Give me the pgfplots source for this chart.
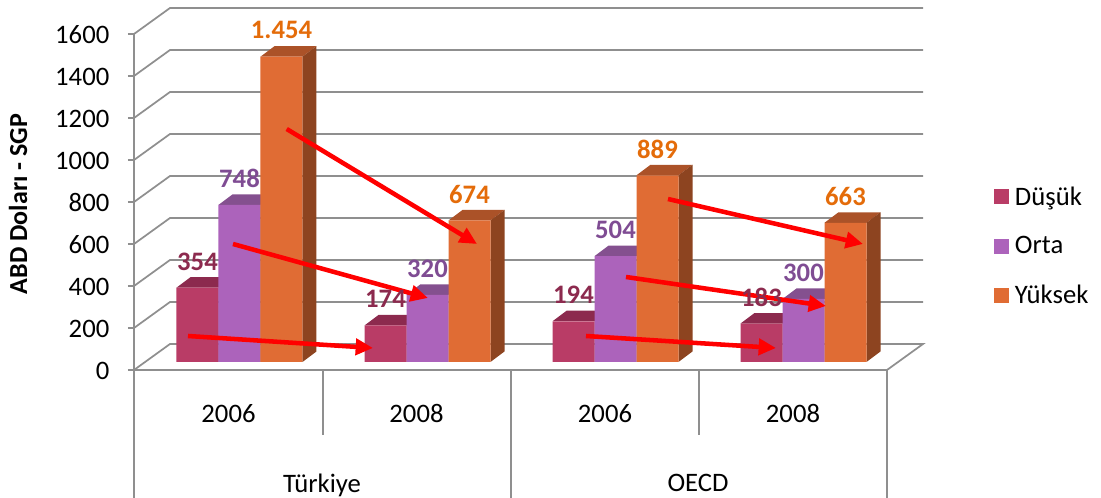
\documentclass[border=0pt]{standalone}
\usepackage{fontspec}
\setmainfont{Carlito}
\usepackage{pgfplots}
\usepackage{pgfplotstable}
\pgfplotsset{compat=1.18}
\usetikzlibrary{arrows.meta}

\definecolor{dusuk}{HTML}{B93C66}
\definecolor{dusuktop}{HTML}{8C2A4E}
\definecolor{orta}{HTML}{AC63BB}
\definecolor{ortatop}{HTML}{84508F}
\definecolor{yuksek}{HTML}{E06C34}
\definecolor{yuksektop}{HTML}{AB5228}
\definecolor{yukseksid}{HTML}{8D4420}
\definecolor{labd}{HTML}{8C2A4E}
\definecolor{labo}{HTML}{7F4C93}
\definecolor{laby}{HTML}{E46C0A}
\definecolor{wallgrey}{HTML}{8F8F8F}

% x is in picture pixels, y in chart values (bars stand on y=0)
\pgfplotstableread{
x     v    lab
197.5 354  354
385.5 174  174
573.5 194  194
761.5 183  183
}\tdusuk
\pgfplotstableread{
x     v    lab
239.5 748  748
427.5 320  320
615.5 504  504
803.5 300  300
}\torta
\pgfplotstableread{
x     v    lab
281.5 1454 1.454
469.5 674  674
657.5 889  889
845.5 663  663
}\tyuksek

\newcommand{\depth}[4]{%
  \pgfmathsetmacro\xa{#1-21}\pgfmathsetmacro\xb{#1+21}%
  \pgfmathsetmacro\xc{#1+35}\pgfmathsetmacro\xd{#1-7}%
  \pgfmathsetmacro\vb{#2+50}%
  \addplot[fill=#3,draw=none,forget plot] coordinates {(\xa,#2)(\xb,#2)(\xc,\vb)(\xd,\vb)};
  \addplot[fill=#4,draw=none,forget plot] coordinates {(\xb,0)(\xc,50)(\xc,\vb)(\xb,#2)};
}
\newcommand{\fs}{\fontsize{20}{22}\selectfont}
\pgfplotsset{redarrow/.style={forget plot,draw=red,fill=red,line width=3.4pt,-{Triangle[length=13pt,width=12pt]}}}

\begin{document}
\begin{tikzpicture}
\useasboundingbox (-100.5pt,-96pt) rectangle (725.25pt,277.5pt);
\begin{axis}[
  x=0.75pt, y=0.1575pt,
  xmin=134, xmax=887,
  ymin=-38.1, ymax=1561.9,
  clip=false, no markers,
  axis x line*=bottom, axis y line*=left,
  axis line style={wallgrey,line width=2.2pt},
  ytick={-38.1,161.9,361.9,561.9,761.9,961.9,1161.9,1361.9,1561.9},
  yticklabels={0,200,400,600,800,1000,1200,1400,1600},
  ytick style={wallgrey,line width=1.2pt},
  tick align=outside,
  major tick length=4.5pt,
  yticklabel style={font=\fs,xshift=-10.5pt,yshift=-0.7pt},
  xtick={228.5,416.5,605,793},
  xticklabels={2006,2008,2006,2008},
  xtick style={draw=none},
  xticklabel style={font=\fs,yshift=-17.7pt},
  extra x ticks={322,698},
  extra x tick labels={Türkiye,OECD},
  extra x tick style={xtick style={draw=none},xticklabel style={font=\fs,yshift=-52.5pt}},
  ylabel={\bfseries ABD Doları - SGP},
  every axis y label/.style={at={(axis cs:18,752)},rotate=90,anchor=center,font=\fontsize{19.5}{21}\selectfont},
  legend style={at={(axis cs:994,552)},anchor=west,draw=none,fill=none,font=\fs,row sep=18pt,inner sep=0pt,
    /tikz/every even column/.append style={column sep=0pt}},
  legend cell align=left,
  legend image code/.code={\fill[#1] (0pt,-5.6pt) rectangle (11.25pt,5.6pt);\path (13.5pt,0pt);},
]
% walls and floor
\addplot[wallgrey,line width=1.3pt,forget plot,unbounded coords=jump] coordinates {
 (134,-38.1)(170,85.7)(923,85.7)(887,-38.1)
 (134,nan)
 (134,161.9)(170,285.7)(923,285.7)
 (134,nan)
 (134,361.9)(170,485.7)(923,485.7)
 (134,nan)
 (134,561.9)(170,685.7)(923,685.7)
 (134,nan)
 (134,761.9)(170,885.7)(923,885.7)
 (134,nan)
 (134,961.9)(170,1085.7)(923,1085.7)
 (134,nan)
 (134,1161.9)(170,1285.7)(923,1285.7)
 (134,nan)
 (134,1361.9)(170,1485.7)(923,1485.7)
 (134,nan)
 (134,1561.9)(170,1685.7)(923,1685.7)
};
% category dividers
\addplot[wallgrey,line width=1.1pt,forget plot,unbounded coords=jump] coordinates {
 (134,-38.1)(134,-647.6)
 (134,nan)
 (323,-38.1)(323,-347.6)
 (134,nan)
 (511,-38.1)(511,-647.6)
 (134,nan)
 (699,-38.1)(699,-347.6)
 (134,nan)
 (887,-38.1)(887,-647.6)
};
% bars
\depth{197.5}{354}{dusuktop}{dusuktop}
\depth{385.5}{174}{dusuktop}{dusuktop}
\depth{573.5}{194}{dusuktop}{dusuktop}
\depth{761.5}{183}{dusuktop}{dusuktop}
\addplot[ybar,bar shift=0pt,bar width=31.5pt,fill=dusuk,draw=none] table[x=x,y=v] {\tdusuk};
\depth{239.5}{748}{ortatop}{ortatop}
\depth{427.5}{320}{ortatop}{ortatop}
\depth{615.5}{504}{ortatop}{ortatop}
\depth{803.5}{300}{ortatop}{ortatop}
\addplot[ybar,bar shift=0pt,bar width=31.5pt,fill=orta,draw=none] table[x=x,y=v] {\torta};
\depth{281.5}{1454}{yuksektop}{yukseksid}
\depth{469.5}{674}{yuksektop}{yukseksid}
\depth{657.5}{889}{yuksektop}{yukseksid}
\depth{845.5}{663}{yuksektop}{yukseksid}
\addplot[ybar,bar shift=0pt,bar width=31.5pt,fill=yuksek,draw=none] table[x=x,y=v] {\tyuksek};
% value labels
\addplot[draw=none,forget plot,point meta=explicit symbolic,nodes near coords,
  nodes near coords style={anchor=center,yshift=19.7pt,text=labd,font=\fs\bfseries}]
  table[x=x,y=v,meta=lab] {\tdusuk};
\addplot[draw=none,forget plot,point meta=explicit symbolic,nodes near coords,
  nodes near coords style={anchor=center,yshift=19.7pt,text=labo,font=\fs\bfseries}]
  table[x=x,y=v,meta=lab] {\torta};
\addplot[draw=none,forget plot,point meta=explicit symbolic,nodes near coords,
  nodes near coords style={anchor=center,yshift=19.7pt,text=laby,font=\fs\bfseries}]
  table[x=x,y=v,meta=lab] {\tyuksek};
% red arrows
\addplot[redarrow] coordinates {(286.7,1109.5)(477,561.9)};
\addplot[redarrow] coordinates {(233,561.9)(428,304.8)};
\addplot[redarrow] coordinates {(188,123.8)(373,66.7)};
\addplot[redarrow] coordinates {(668,776.2)(863,561.9)};
\addplot[redarrow] coordinates {(626,404.8)(826,266.7)};
\addplot[redarrow] coordinates {(586,123.8)(776,66.7)};
\legend{Düşük,Orta,Yüksek}
\end{axis}
\end{tikzpicture}
\end{document}
